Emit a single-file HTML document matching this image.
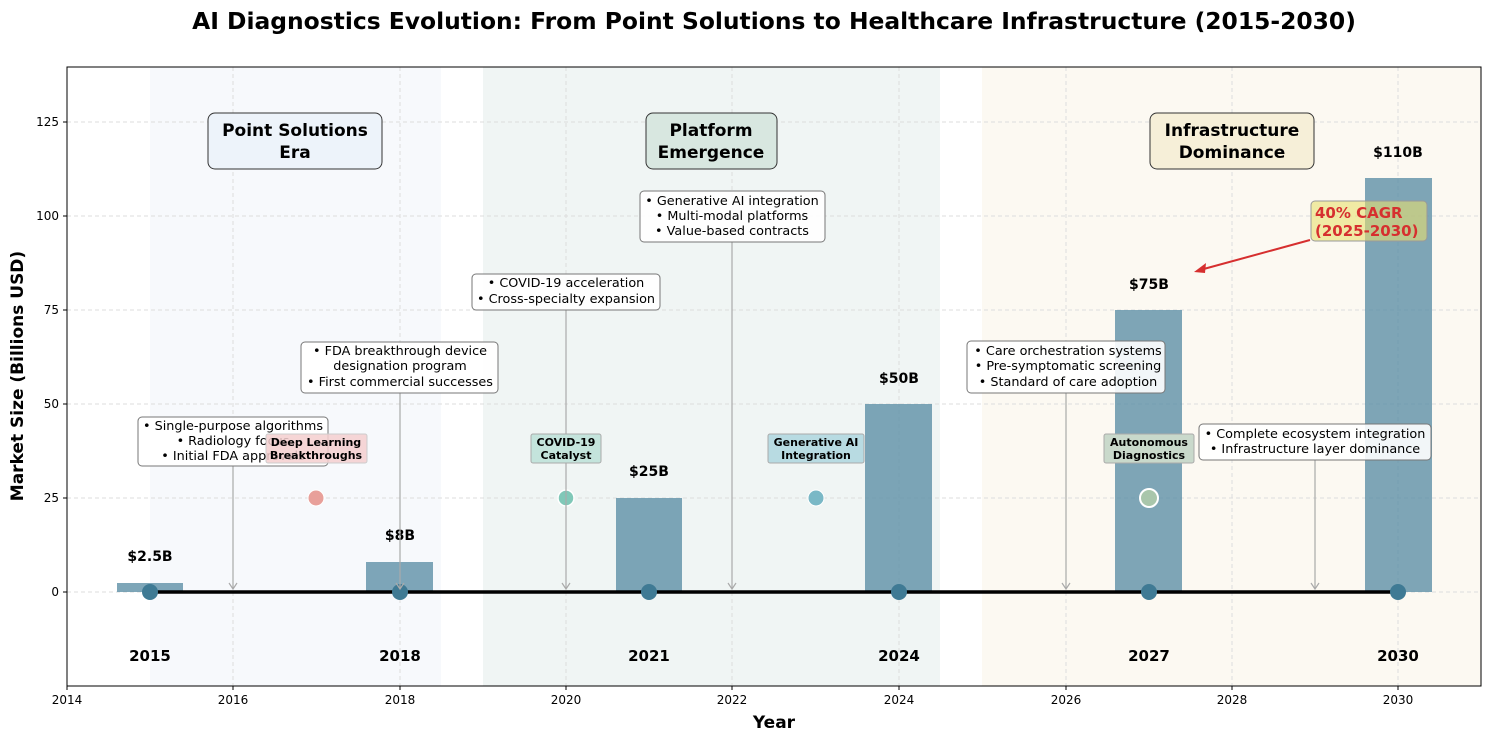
<!DOCTYPE html>
<html><head><meta charset="utf-8"><style>body{margin:0;background:#fff}svg{display:block}text{font-family:"DejaVu Sans","Liberation Sans",sans-serif}</style></head><body>
<svg width="1491" height="741" xmlns="http://www.w3.org/2000/svg">
<rect width="1491" height="741" fill="#fff"/>
<text x="774" y="29" text-anchor="middle" font-size="23.4" font-weight="bold">AI Diagnostics Evolution: From Point Solutions to Healthcare Infrastructure (2015-2030)</text>
<rect x="150" y="67" width="291" height="619" fill="#f7f9fc"/>
<rect x="483" y="67" width="457" height="619" fill="#f0f5f4"/>
<rect x="982" y="67" width="499" height="619" fill="#fcf9f2"/>
<g stroke="#ddd" stroke-dasharray="4,3" stroke-width="1">
<line x1="233" y1="67" x2="233" y2="686"/><line x1="400" y1="67" x2="400" y2="686"/><line x1="566" y1="67" x2="566" y2="686"/><line x1="732" y1="67" x2="732" y2="686"/><line x1="899" y1="67" x2="899" y2="686"/><line x1="1066" y1="67" x2="1066" y2="686"/><line x1="1232" y1="67" x2="1232" y2="686"/><line x1="1398" y1="67" x2="1398" y2="686"/>
<line x1="67" y1="122" x2="1481" y2="122"/><line x1="67" y1="216" x2="1481" y2="216"/><line x1="67" y1="310" x2="1481" y2="310"/><line x1="67" y1="404" x2="1481" y2="404"/><line x1="67" y1="498" x2="1481" y2="498"/><line x1="67" y1="592" x2="1481" y2="592"/>
</g>
<g fill="#5e90a6" fill-opacity="0.8">
<rect x="117" y="583" width="66" height="9"/><rect x="366" y="562" width="67" height="30"/><rect x="616" y="498" width="66" height="94"/><rect x="865" y="404" width="67" height="188"/><rect x="1115" y="310" width="67" height="282"/><rect x="1365" y="178" width="67" height="414"/>
</g>
<g font-size="14" font-weight="bold" text-anchor="middle">
<text x="150" y="561">$2.5B</text><text x="400" y="540">$8B</text><text x="649" y="476">$25B</text><text x="899" y="383">$50B</text><text x="1149" y="289">$75B</text><text x="1398" y="157">$110B</text>
</g>
<line x1="150" y1="592" x2="1398" y2="592" stroke="#000" stroke-width="3.5"/>
<g fill="#3f7a94"><circle cx="150" cy="592" r="8"/><circle cx="400" cy="592" r="8"/><circle cx="649" cy="592" r="8"/><circle cx="899" cy="592" r="8"/><circle cx="1149" cy="592" r="8"/><circle cx="1398" cy="592" r="8"/></g>
<g font-size="15" font-weight="bold" text-anchor="middle">
<text x="150" y="661">2015</text><text x="400" y="661">2018</text><text x="649" y="661">2021</text><text x="899" y="661">2024</text><text x="1149" y="661">2027</text><text x="1398" y="661">2030</text>
</g>
<circle cx="316" cy="498" r="8" fill="#e8a09a" stroke="#fff" stroke-width="1"/>
<circle cx="566" cy="498" r="8" fill="#80c8b8" stroke="#fff" stroke-width="1.5"/>
<circle cx="816" cy="498" r="8" fill="#7ab8c6" stroke="#fff" stroke-width="1"/>
<circle cx="1149" cy="498" r="9" fill="#a9c6ab" stroke="#fff" stroke-width="2"/>
<g stroke="#aaa" stroke-width="1.2" fill="none">
<line x1="233" y1="466" x2="233" y2="589"/><path d="M229,583 L233,589 L237,583"/>
<line x1="400" y1="393" x2="400" y2="589"/><path d="M396,583 L400,589 L404,583"/>
<line x1="566" y1="310" x2="566" y2="589"/><path d="M562,583 L566,589 L570,583"/>
<line x1="732" y1="242" x2="732" y2="589"/><path d="M728,583 L732,589 L736,583"/>
<line x1="1066" y1="393" x2="1066" y2="589"/><path d="M1062,583 L1066,589 L1070,583"/>
<line x1="1315" y1="460" x2="1315" y2="589"/><path d="M1311,583 L1315,589 L1319,583"/>
</g>
<g font-size="12.8" text-anchor="middle">
<rect x="138" y="417" width="190" height="49" rx="4" fill="#fff" fill-opacity="0.9" stroke="#777"/>
<text x="233" y="430">• Single-purpose algorithms</text><text x="233" y="445">• Radiology focus</text><text x="233" y="460">• Initial FDA approvals</text>
<rect x="301" y="342" width="197" height="51" rx="4" fill="#fff" fill-opacity="0.9" stroke="#777"/>
<text x="400" y="355">• FDA breakthrough device</text><text x="400" y="370">designation program</text><text x="400" y="386">• First commercial successes</text>
<rect x="472" y="274" width="188" height="36" rx="4" fill="#fff" fill-opacity="0.9" stroke="#777"/>
<text x="566" y="287">• COVID-19 acceleration</text><text x="566" y="303">• Cross-specialty expansion</text>
<rect x="640" y="191" width="185" height="51" rx="4" fill="#fff" fill-opacity="0.9" stroke="#777"/>
<text x="732" y="205">• Generative AI integration</text><text x="732" y="220">• Multi-modal platforms</text><text x="732" y="235">• Value-based contracts</text>
<rect x="967" y="341" width="198" height="52" rx="4" fill="#fff" fill-opacity="0.9" stroke="#777"/>
<text x="1068" y="355">• Care orchestration systems</text><text x="1068" y="370">• Pre-symptomatic screening</text><text x="1068" y="386">• Standard of care adoption</text>
<rect x="1199" y="424" width="232" height="36" rx="4" fill="#fff" fill-opacity="0.9" stroke="#777"/>
<text x="1315" y="438">• Complete ecosystem integration</text><text x="1315" y="453">• Infrastructure layer dominance</text>
</g>
<g font-size="11" font-weight="bold" text-anchor="middle">
<rect x="266" y="434" width="101" height="29" rx="2" fill="#f4cfcf" fill-opacity="0.85" stroke="#ccc"/>
<text x="316" y="446">Deep Learning</text><text x="316" y="459">Breakthroughs</text>
<rect x="531" y="434" width="70" height="29" rx="2" fill="#c4e4dc" stroke="#aaa"/>
<text x="566" y="446">COVID-19</text><text x="566" y="459">Catalyst</text>
<rect x="768" y="434" width="96" height="29" rx="2" fill="#b8dbe2" stroke="#aaa"/>
<text x="816" y="446">Generative AI</text><text x="816" y="459">Integration</text>
<rect x="1104" y="434" width="90" height="29" rx="2" fill="#c9d9cb" stroke="#aaa"/>
<text x="1149" y="446">Autonomous</text><text x="1149" y="459">Diagnostics</text>
</g>
<g font-size="17" font-weight="bold" text-anchor="middle">
<rect x="208" y="113" width="174" height="56" rx="7" fill="#edf3fa" stroke="#333"/>
<text x="295" y="136">Point Solutions</text><text x="295" y="158">Era</text>
<rect x="646" y="113" width="131" height="56" rx="7" fill="#d8e7e0" stroke="#333"/>
<text x="711" y="136">Platform</text><text x="711" y="158">Emergence</text>
<rect x="1150" y="113" width="164" height="56" rx="7" fill="#f6efd8" stroke="#333"/>
<text x="1232" y="136">Infrastructure</text><text x="1232" y="158">Dominance</text>
</g>
<line x1="1310" y1="240" x2="1200" y2="270" stroke="#d62f2f" stroke-width="2"/>
<path d="M1194,272 L1206,263 L1205,273 Z" fill="#d62f2f"/>
<rect x="1311" y="201" width="116" height="40" rx="4" fill="#e8e070" fill-opacity="0.6" stroke="#999"/>
<text x="1315" y="218" font-size="15" font-weight="bold" fill="#d62f2f">40% CAGR</text>
<text x="1315" y="236" font-size="15" font-weight="bold" fill="#d62f2f">(2025-2030)</text>
<rect x="67" y="67" width="1414" height="619" fill="none" stroke="#000" stroke-width="1"/>
<g stroke="#000"><line x1="67" y1="686" x2="67" y2="690"/><line x1="233" y1="686" x2="233" y2="690"/><line x1="400" y1="686" x2="400" y2="690"/><line x1="566" y1="686" x2="566" y2="690"/><line x1="732" y1="686" x2="732" y2="690"/><line x1="899" y1="686" x2="899" y2="690"/><line x1="1066" y1="686" x2="1066" y2="690"/><line x1="1232" y1="686" x2="1232" y2="690"/><line x1="1398" y1="686" x2="1398" y2="690"/>
<line x1="63" y1="122" x2="67" y2="122"/><line x1="63" y1="216" x2="67" y2="216"/><line x1="63" y1="310" x2="67" y2="310"/><line x1="63" y1="404" x2="67" y2="404"/><line x1="63" y1="498" x2="67" y2="498"/><line x1="63" y1="592" x2="67" y2="592"/></g>
<g font-size="12" text-anchor="middle">
<text x="67" y="704">2014</text><text x="233" y="704">2016</text><text x="400" y="704">2018</text><text x="566" y="704">2020</text><text x="732" y="704">2022</text><text x="899" y="704">2024</text><text x="1066" y="704">2026</text><text x="1232" y="704">2028</text><text x="1398" y="704">2030</text>
</g>
<g font-size="12" text-anchor="end">
<text x="59" y="126">125</text><text x="59" y="220">100</text><text x="59" y="314">75</text><text x="59" y="408">50</text><text x="59" y="502">25</text><text x="59" y="596">0</text>
</g>
<text x="774" y="728" text-anchor="middle" font-size="17" font-weight="bold">Year</text>
<text transform="translate(23,376) rotate(-90)" text-anchor="middle" font-size="17" font-weight="bold">Market Size (Billions USD)</text>
</svg>
</body></html>
